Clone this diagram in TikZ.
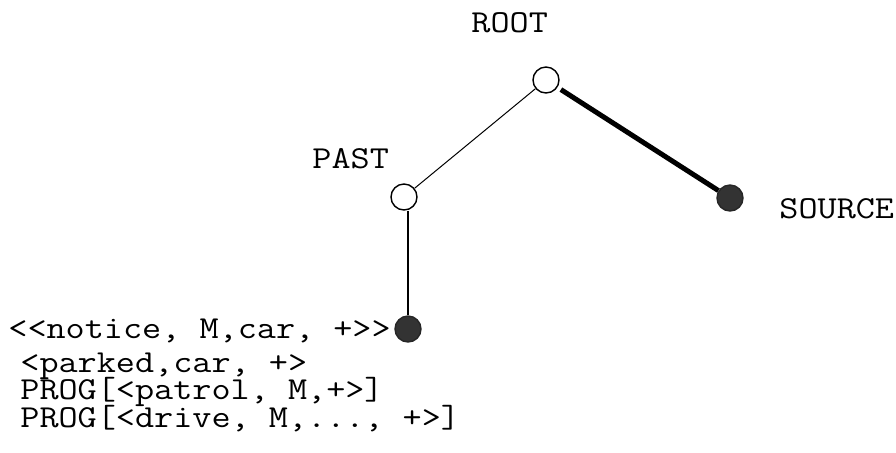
\documentclass[tikz,border=0pt]{standalone}
\usetikzlibrary{positioning}
% typewriter text, a little wider than Latin Modern Mono
\newcommand{\widett}[1]{\scalebox{1.16}[1]{#1}}

\begin{document}
\begin{tikzpicture}[x=0.5pt, y=-0.5pt,
  every node/.style={font=\ttfamily\fontsize{16}{18}\selectfont},
  opennode/.style={circle, draw, line width=0.7pt, fill=white, minimum size=13pt, inner sep=0pt},
  fullnode/.style={circle, draw=black!85, line width=0.7pt, fill=black!80, minimum size=13pt, inner sep=0pt},
  lbl/.style={anchor=base west, inner sep=0pt}]
\def\textx{20}
\def\linegap{27.5}
\def\firsty{372}
\useasboundingbox (0,0) rectangle (896,452);

% tree
\node[opennode] (root) at (546,80) {};
\node[opennode] (past) at (404,197) {};
\node[fullnode] (source) at (730,198) {};
\node[fullnode] (leaf) at (408,329) {};

\draw[line width=0.5pt] (root) -- (past);
\draw[line width=2.5pt, shorten <=2pt] (root) -- (source);
\draw[line width=1pt] (past.south -| leaf.north) -- (leaf);

% labels
\node[lbl] (rootlbl) at (471,32) {\widett{ROOT}};
\node[lbl] (pastlbl) at (312,168) {\widett{PAST}};
\node[lbl] (sourcelbl) at (779,218) {\widett{SOURCE}};

\node[lbl] (l1) at (8,338) {\widett{<<notice, M,car, +>>}};
\node[lbl] (l2) at (\textx,\firsty) {\widett{<parked,car, +>}};
\node[lbl] (l3) at (\textx,\firsty+\linegap) {\widett{PROG[<patrol, M,+>]}};
\node[lbl] (l4) at (\textx,\firsty+2*\linegap) {\widett{PROG[<drive, M,..., +>]}};
\end{tikzpicture}
\end{document}
